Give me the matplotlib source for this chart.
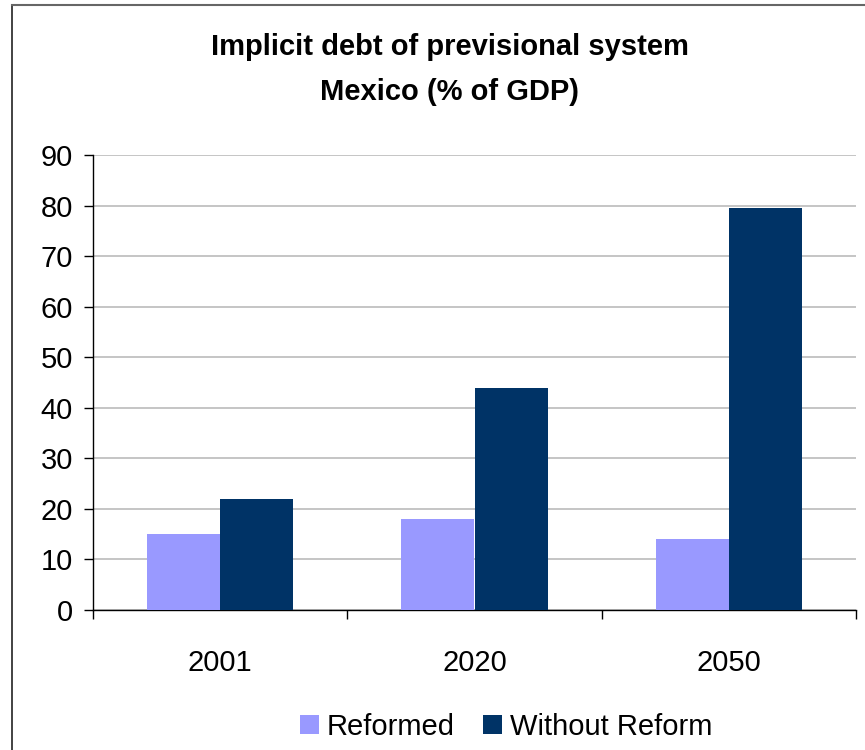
import matplotlib
matplotlib.use("Agg")
import matplotlib.pyplot as plt
import numpy as np
from matplotlib.lines import Line2D

plt.rcParams['font.family'] = ['Liberation Sans', 'DejaVu Sans']

years = ["2001", "2020", "2050"]
reformed = [15, 18, 14]
without_reform = [22, 44, 79.6]
series_names = ["Reformed", "Without Reform"]
colors = ["#9999FF", "#003366"]
yticks = list(range(0, 100, 10))

W, H = 865, 750
fig = plt.figure(figsize=(W / 100, H / 100), dpi=100)

# outer chart frame (left and top edges visible)
fig.add_artist(Line2D([12 / W, 12 / W], [0, 1 - 5 / H], transform=fig.transFigure,
                      color="#222222", lw=1.2))
fig.add_artist(Line2D([12 / W, 1], [1 - 5 / H, 1 - 5 / H], transform=fig.transFigure,
                      color="#666666", lw=1.5))

left, right, top, bottom = 93, 856, 155, 610
ax = fig.add_axes([left / W, 1 - bottom / H, (right - left) / W, (bottom - top) / H])

x = np.arange(len(years))
bw = 0.2875
ax.bar(x - bw / 2, reformed, width=bw, color=colors[0], label=series_names[0], zorder=3)
ax.bar(x + bw / 2, without_reform, width=bw, color=colors[1], label=series_names[1], zorder=3)

ax.set_xlim(-0.5, len(years) - 0.5)
ax.set_ylim(0, 90)
ax.set_yticks(yticks)
ax.set_yticklabels([str(v) for v in yticks], fontsize=21)
ax.yaxis.grid(True, color="#C0C0C0", lw=1.3, zorder=0)
ax.set_axisbelow(True)

# category labels centered, tick marks on category boundaries
ax.set_xticks(np.arange(-0.5, len(years), 1.0))
ax.set_xticklabels([""] * (len(years) + 1))
ax.set_xticks(x, minor=True)
ax.set_xticklabels(years, minor=True, fontsize=21)
ax.tick_params(axis="x", which="minor", length=0, pad=28)
ax.tick_params(axis="x", which="major", length=6.5, width=1, direction="out", color="black")
ax.tick_params(axis="y", length=6.5, width=1, direction="out", pad=8)

for s in ["top", "right"]:
    ax.spines[s].set_visible(False)
ax.spines["left"].set_color("black")
ax.spines["bottom"].set_color("black")
ax.spines["left"].set_linewidth(1)
ax.spines["bottom"].set_linewidth(1)

fig.text(450 / W, 1 - 47 / H, "Implicit debt of previsional system", ha="center",
         va="center", fontsize=21, fontweight="bold")
fig.text(450 / W, 1 - 92 / H, "Mexico (% of GDP)", ha="center", va="center",
         fontsize=21, fontweight="bold")

leg = fig.legend(loc="center", bbox_to_anchor=(506 / W, 1 - 727 / H), ncol=2, frameon=False,
                 fontsize=21, handlelength=0.65, handleheight=0.65, handletextpad=0.25,
                 columnspacing=1.0)

fig.savefig("out.png", dpi=100)
